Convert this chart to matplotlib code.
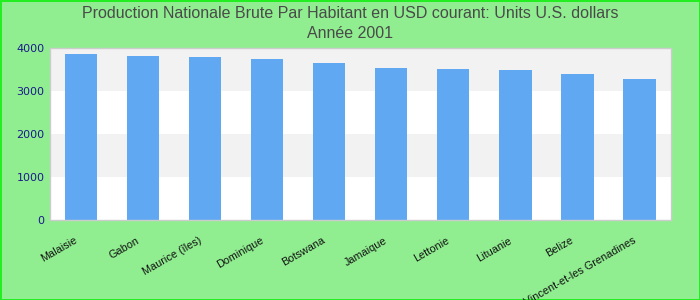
import matplotlib
matplotlib.use("Agg")
import matplotlib.pyplot as plt
from matplotlib.transforms import ScaledTranslation

countries = ["Malaisie", "Gabon", "Maurice (îles)", "Dominique", "Botswana",
             "Jamaique", "Lettonie", "Lituanie", "Belize",
             "Saint-Vincent-et-les Grenadines"]
values = [3870, 3823, 3800, 3753, 3660, 3543, 3520, 3497, 3403, 3287]
yticks = [0, 1000, 2000, 3000, 4000]

fig = plt.figure(figsize=(7, 3), dpi=100)
fig.patch.set_facecolor("#90EE90")
fig.patch.set_edgecolor("#22EE22")
fig.patch.set_linewidth(2)

ax = fig.add_axes([50/700, 80/300, 620.5/700, (220-48.3)/300])
ax.set_facecolor("white")
ax.set_xlim(-0.5, len(countries) - 0.5)
ax.set_ylim(0, 4000)

# alternating bands
for i in range(len(yticks) - 1):
    color = "#F2F2F2" if i % 2 == 1 else "white"
    ax.axhspan(yticks[i], yticks[i + 1], color=color, zorder=0, lw=0)

ax.bar(range(len(countries)), values, width=0.52, color="#61A8F3", zorder=2)

ax.set_yticks(yticks)
ax.set_yticklabels([str(v) for v in yticks], color="#1A1A8C",
                   fontsize=8, family="DejaVu Sans")
ax.set_xticks(range(len(countries)))
ax.set_xticklabels(countries, rotation=30, ha="right", rotation_mode="anchor",
                   fontsize=7.8, family="Liberation Sans", color="#111111")
ax.tick_params(axis="both", length=0, pad=4)
ax.tick_params(axis="x", pad=11)
offset = ScaledTranslation(-7/100, 0, fig.dpi_scale_trans)
for lbl in ax.get_xticklabels():
    lbl.set_transform(lbl.get_transform() + offset)

for s in ax.spines.values():
    s.set_color("#CCCCCC")
    s.set_linewidth(1)

fig.text(0.5, 1 - 14/300, "Production Nationale Brute Par Habitant en USD courant: Units U.S. dollars",
         ha="center", va="center", fontsize=11.5, family="Liberation Sans", color="#4A4A4A")
fig.text(0.5, 1 - 34/300, "Année 2001",
         ha="center", va="center", fontsize=11.5, family="Liberation Sans", color="#4A4A4A")

fig.savefig("out.png", dpi=100, facecolor=fig.get_facecolor(), edgecolor=fig.get_edgecolor())
